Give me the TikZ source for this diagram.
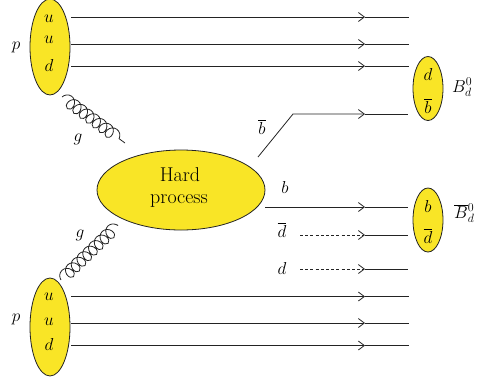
\documentclass[tikz,border=0pt]{standalone}
\usetikzlibrary{decorations.pathmorphing,arrows.meta,shapes.geometric}
\definecolor{hy}{RGB}{249,229,38}
\definecolor{ink}{RGB}{35,35,35}
\begin{document}
\begin{tikzpicture}[x=1pt,y=-1pt,
  blob/.style={ellipse,draw=ink,fill=hy,line width=0.8pt,inner sep=0pt},
  quark/.style={draw=ink,line width=0.8pt},
  arr/.style={quark,-{Straight Barb[length=6pt,width=9pt,line width=0.8pt]}},
  dsh/.style={arr,dash pattern=on 3pt off 2.2pt},
  gluon/.style={draw=ink,line width=0.8pt,decorate,decoration={coil,aspect=0.85,segment length=8pt,amplitude=6.3pt}},
  lbl/.style={font=\fontsize{18}{20}\selectfont,inner sep=0pt},
  hard/.style={font=\fontsize{20}{22}\selectfont,inner sep=0pt}]
\useasboundingbox (0,0) rectangle (479,381);
% protons
\node[blob,minimum width=40pt,minimum height=96pt] (p1) at (50,47) {};
\node[blob,minimum width=40pt,minimum height=98pt] (p2) at (50,327) {};
\node[lbl] (pl1) at (16,47) {$p$};
\node[lbl] (pl2) at (16,319) {$p$};
\node[lbl] (u11) at (49,19) {$u$};
\node[lbl] (u12) at (49,40) {$u$};
\node[lbl] (d13) at (49,65.5) {$d$};
\node[lbl] (u21) at (49,297) {$u$};
\node[lbl] (u22) at (49,322) {$u$};
\node[lbl] (d23) at (49,344) {$d$};
% hard process
\node[blob,minimum width=168pt,minimum height=80pt] (hp) at (181,190) {};
\node[hard,anchor=base] (hp1) at (180,181) {Hard};
\node[hard,anchor=base] (hp2) at (179,203) {process};
% B mesons
\node[blob,minimum width=30pt,minimum height=64pt] (B1) at (428,88.5) {};
\node[lbl] (B1d) at (428,74) {$d$};
\node[lbl] (B1b) at (428,106) {$\overline{b}$};
\node[blob,minimum width=30pt,minimum height=64pt] (B2) at (428,220) {};
\node[lbl] (B2b) at (428,206) {$b$};
\node[lbl] (B2d) at (428,236) {$\overline{d}$};
\node[lbl,anchor=base west] (B1l) at (452,92) {$B_d^0$};
\node[lbl,anchor=base west] (B2l) at (454,218) {$\overline{B}{}_d^0$};
% spectator quark lines
\foreach \n/\y in {a/17,b/44,c/66,e/296.5,f/323,g/345.5}{
  \coordinate (s\n) at (71,\y);
  \coordinate (m\n) at (365,\y);
  \coordinate (t\n) at (409,\y);
  \draw[arr] (s\n) -- (m\n);
  \draw[quark] (m\n) -- (t\n);
}
% gluons
\coordinate (g1a) at (62,97);
\coordinate (g1b) at (125,143);
\coordinate (g2a) at (61,280);
\coordinate (g2b) at (118,225);
\draw[gluon] (g1a) -- (g1b);
\draw[gluon] (g2a) -- (g2b);
\node[lbl] (gl1) at (78,139) {$g$};
\node[lbl] (gl2) at (80,235) {$g$};
% bbar line
\coordinate (bb0) at (258,157);
\coordinate (bb1) at (293,114);
\coordinate (bb2) at (365,114);
\coordinate (bb3) at (408,114);
\draw[arr] (bb0) -- (bb1) -- (bb2);
\draw[quark] (bb2) -- (bb3);
\node[lbl] (bbl) at (262,127) {$\overline{b}$};
% b line
\coordinate (b0) at (265,207);
\coordinate (b2) at (365,207);
\coordinate (b3) at (408,207);
\draw[arr] (b0) -- (b2);
\draw[quark] (b2) -- (b3);
\node[lbl] (bl) at (285,187) {$b$};
% dbar line
\coordinate (db0) at (300,235);
\coordinate (db2) at (365,235);
\coordinate (db3) at (408,235);
\draw[dsh] (db0) -- (db2);
\draw[quark] (db2) -- (db3);
\node[lbl] (dbl) at (282,230) {$\overline{d}$};
% d line
\coordinate (d0) at (300,269);
\coordinate (d2) at (365,269);
\coordinate (d3) at (408,269);
\draw[dsh] (d0) -- (d2);
\draw[quark] (d2) -- (d3);
\node[lbl] (dl) at (282,268) {$d$};
\end{tikzpicture}
\end{document}
